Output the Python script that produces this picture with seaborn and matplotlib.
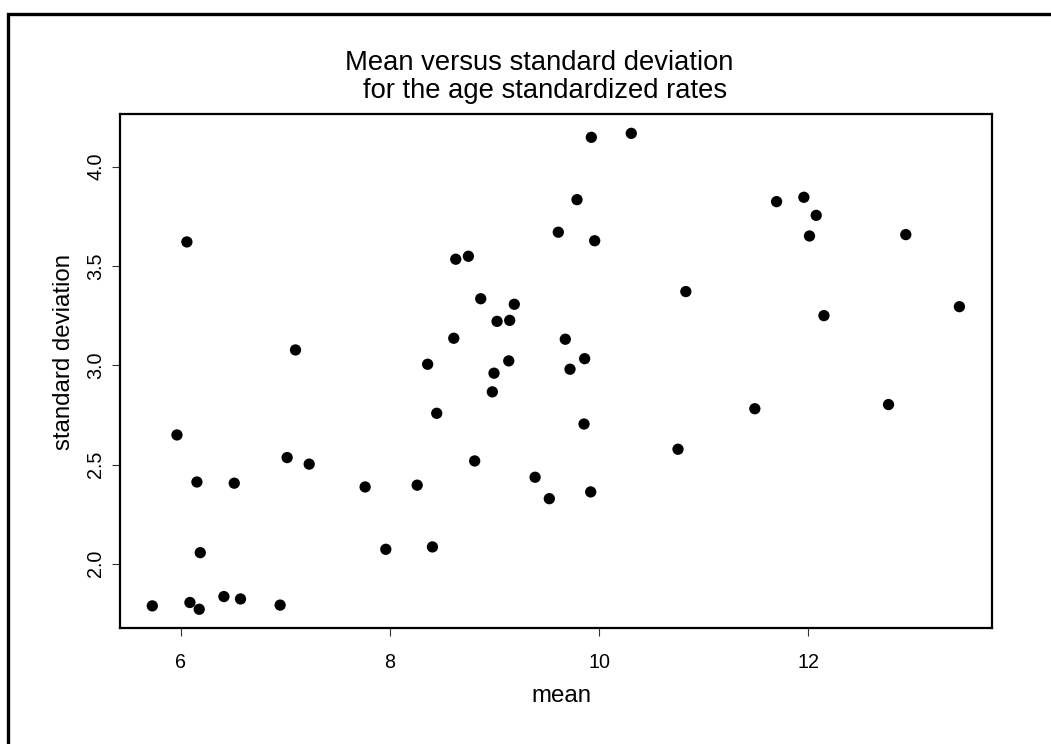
import matplotlib
matplotlib.use("Agg")
import matplotlib.pyplot as plt
from matplotlib.patches import Rectangle
import seaborn as sns
import pandas as pd
import numpy as np

mean_vals = [6.057, 7.096, 8.629, 8.750, 8.868, 9.189, 9.024, 9.145, 8.610, 8.360,
             9.136, 8.995, 8.979, 9.926, 10.308, 9.789, 9.610, 9.958, 10.830, 9.677,
             9.862, 9.722, 11.698, 11.959, 12.077, 12.013, 12.934, 12.151, 13.447, 8.447,
             5.962, 7.016, 7.227, 6.153, 6.510, 7.762, 8.260, 8.810, 9.388, 9.524,
             6.185, 7.960, 8.406, 5.726, 6.086, 6.175, 6.411, 6.570, 6.949, 9.856,
             9.920, 10.755, 11.490, 12.769]
sd_vals = [3.621, 3.077, 3.534, 3.549, 3.335, 3.307, 3.221, 3.226, 3.136, 3.005,
           3.022, 2.960, 2.866, 4.148, 4.168, 3.834, 3.670, 3.627, 3.371, 3.131,
           3.033, 2.980, 3.824, 3.846, 3.755, 3.651, 3.658, 3.250, 3.295, 2.758,
           2.649, 2.535, 2.502, 2.412, 2.406, 2.387, 2.396, 2.518, 2.436, 2.328,
           2.056, 2.073, 2.085, 1.788, 1.805, 1.771, 1.835, 1.823, 1.792, 2.704,
           2.362, 2.577, 2.781, 2.802]
x_ticks = [6, 8, 10, 12]
y_ticks = [2.0, 2.5, 3.0, 3.5, 4.0]
y_tick_labels = ["2.0", "2.5", "3.0", "3.5", "4.0"]
title_lines = ["Mean versus standard deviation", "for the age standardized rates"]
x_label = "mean"
y_label = "standard deviation"

sns.set_style("white")
plt.rcParams['font.family'] = ['Liberation Sans', 'DejaVu Sans']

W, H = 1051, 744
fig = plt.figure(figsize=(W / 100, H / 100), dpi=100)
fig.patch.set_facecolor("white")

L, R, T, B = 120, 991.7, 114.3, 628.3
ax = fig.add_axes([L / W, 1 - B / H, (R - L) / W, (B - T) / H])

df = pd.DataFrame({"mean": mean_vals, "sd": sd_vals})
sns.scatterplot(data=df, x="mean", y="sd", ax=ax, color="black", s=66,
                edgecolor="none", linewidth=0, legend=False)

xr = max(mean_vals) - min(mean_vals)
yr = max(sd_vals) - min(sd_vals)
ax.set_xlim(min(mean_vals) - 0.04 * xr, max(mean_vals) + 0.04 * xr)
ax.set_ylim(min(sd_vals) - 0.04 * yr, max(sd_vals) + 0.04 * yr)

ax.set_xticks(x_ticks)
ax.set_xticklabels([str(v) for v in x_ticks])
ax.set_yticks(y_ticks)
ax.set_yticklabels(y_tick_labels, rotation=90, va="center")

for sp in ax.spines.values():
    sp.set_visible(True)
    sp.set_color("black")
    sp.set_linewidth(1.6)

ax.tick_params(axis="both", which="major", direction="out", length=5.8, width=0.8,
               color="#333333", labelsize=14.2, labelcolor="black",
               bottom=True, left=True, top=False, right=False)
ax.tick_params(axis="x", pad=12)
ax.tick_params(axis="y", pad=5)

ax.set_xlabel(x_label, fontsize=17.3, color="black")
ax.set_ylabel(y_label, fontsize=17.3, color="black")
ax.xaxis.label.set_va("baseline")
ax.xaxis.set_label_coords((561.7 - L) / (R - L), -(701.7 - B) / (B - T))
ax.yaxis.label.set_va("baseline")
ax.yaxis.set_label_coords(-(L - 70) / (R - L), (B - 352) / (B - T))

fig.text(539.5 / W, 1 - 70 / H, title_lines[0], ha="center", va="baseline",
         fontsize=19.7, color="black")
fig.text(545 / W, 1 - 98 / H, title_lines[1], ha="center", va="baseline",
         fontsize=19.7, color="black")

fig.add_artist(Rectangle((8 / W, -0.05), 1.1, 1 - 13.7 / H + 0.05,
                         transform=fig.transFigure, fill=False,
                         edgecolor="black", linewidth=2.4, clip_on=False))

fig.savefig("out.png", dpi=100)
